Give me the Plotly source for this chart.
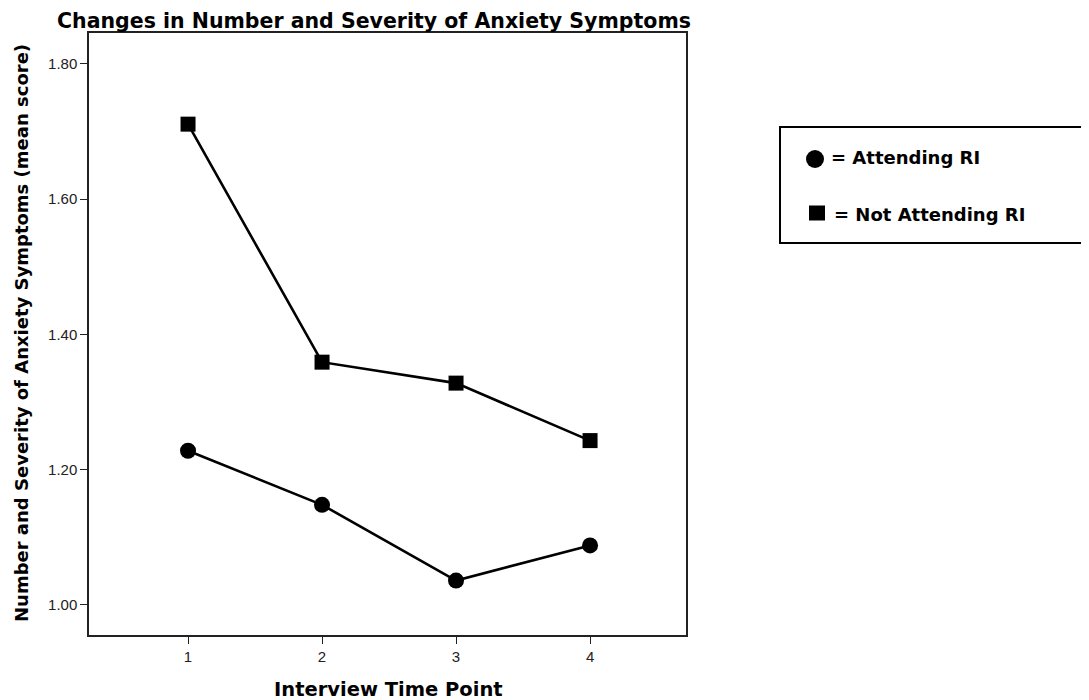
import plotly.graph_objects as go

time_points = [1, 2, 3, 4]
attending = [1.228, 1.148, 1.036, 1.088]
not_attending = [1.711, 1.359, 1.328, 1.243]
y_ticks = [1.00, 1.20, 1.40, 1.60, 1.80]
y_tick_labels = ["1.00", "1.20", "1.40", "1.60", "1.80"]
series_names = ["= Attending RI", "= Not Attending RI"]

OFF = 8  # page body margin
W, H = 1089 - OFF, 700 - OFF
L, R, T, B = 89 - OFF, 686 - OFF, 33 - OFF, 635 - OFF
pw, ph = R - L, B - T

def px(x):
    return (x - OFF - L) / pw

def py(y):
    return (B - (y - OFF)) / ph

fig = go.Figure()
fig.add_trace(go.Scatter(x=time_points, y=attending, mode="lines+markers",
                         line=dict(color="black", width=2.6),
                         marker=dict(symbol="circle", size=16, color="black"),
                         showlegend=False))
fig.add_trace(go.Scatter(x=time_points, y=not_attending, mode="lines+markers",
                         line=dict(color="black", width=2.6),
                         marker=dict(symbol="square", size=15, color="black"),
                         showlegend=False))

font_reg = "Liberation Sans, Arial, sans-serif"
font_bold = "DejaVu Sans, Liberation Sans, Arial, sans-serif"

fig.update_layout(
    width=W, height=H,
    margin=dict(l=L, r=W - R, t=T, b=H - B),
    paper_bgcolor="white", plot_bgcolor="white",
    xaxis=dict(range=[0.261, 4.716], tickvals=time_points, ticktext=[str(t) for t in time_points],
               showgrid=False, zeroline=False, showline=True, linecolor="#222", linewidth=1.5,
               mirror=True, ticks="outside", ticklen=7, tickcolor="#222", tickwidth=1.3,
               tickfont=dict(family=font_reg, size=15, color="#222")),
    yaxis=dict(range=[0.9555, 1.8458], tickvals=y_ticks, ticktext=y_tick_labels,
               showgrid=False, zeroline=False, showline=True, linecolor="#222", linewidth=1.5,
               mirror=True, ticks="outside", ticklen=7, tickcolor="#222", tickwidth=1.3,
               tickfont=dict(family=font_reg, size=15, color="#222")),
    font=dict(family=font_reg, color="black"),
)

annotations = [
    dict(text="<b>Changes in Number and Severity of Anxiety Symptoms</b>", x=px(374), y=py(8),
         xref="paper", yref="paper", showarrow=False, font=dict(size=20.5, family=font_bold),
         xanchor="center", yanchor="top", borderpad=0),
    dict(text="<b>Number and Severity of Anxiety Symptoms (mean score)</b>", x=px(21), y=py(333),
         xref="paper", yref="paper", showarrow=False, font=dict(size=18, family=font_bold),
         textangle=-90, xanchor="center", yanchor="middle"),
    dict(text="<b>Interview Time Point</b>", x=px(388), y=py(689),
         xref="paper", yref="paper", showarrow=False, font=dict(size=19.5, family=font_bold),
         xanchor="center", yanchor="middle"),
    dict(text="<b>" + series_names[0] + "</b>", x=px(829), y=py(157),
         xref="paper", yref="paper", showarrow=False, font=dict(size=18, family=font_bold),
         xanchor="left", yanchor="middle"),
    dict(text="<b>" + series_names[1] + "</b>", x=px(832), y=py(214),
         xref="paper", yref="paper", showarrow=False, font=dict(size=18, family=font_bold),
         xanchor="left", yanchor="middle"),
]
fig.update_layout(annotations=annotations)

shapes = [
    dict(type="rect", xref="paper", yref="paper", x0=px(780), x1=px(1095), y0=py(243), y1=py(127),
         line=dict(color="black", width=2), fillcolor="rgba(0,0,0,0)"),
    dict(type="circle", xref="paper", yref="paper", xsizemode="pixel", ysizemode="pixel",
         xanchor=px(815), yanchor=py(159), x0=-9, x1=9, y0=-9, y1=9,
         fillcolor="black", line=dict(color="black", width=0)),
    dict(type="rect", xref="paper", yref="paper", xsizemode="pixel", ysizemode="pixel",
         xanchor=px(817), yanchor=py(213), x0=-8, x1=8, y0=-7.5, y1=7.5,
         fillcolor="black", line=dict(color="black", width=0)),
]
fig.update_layout(shapes=shapes)

fig.write_html("out.html")
